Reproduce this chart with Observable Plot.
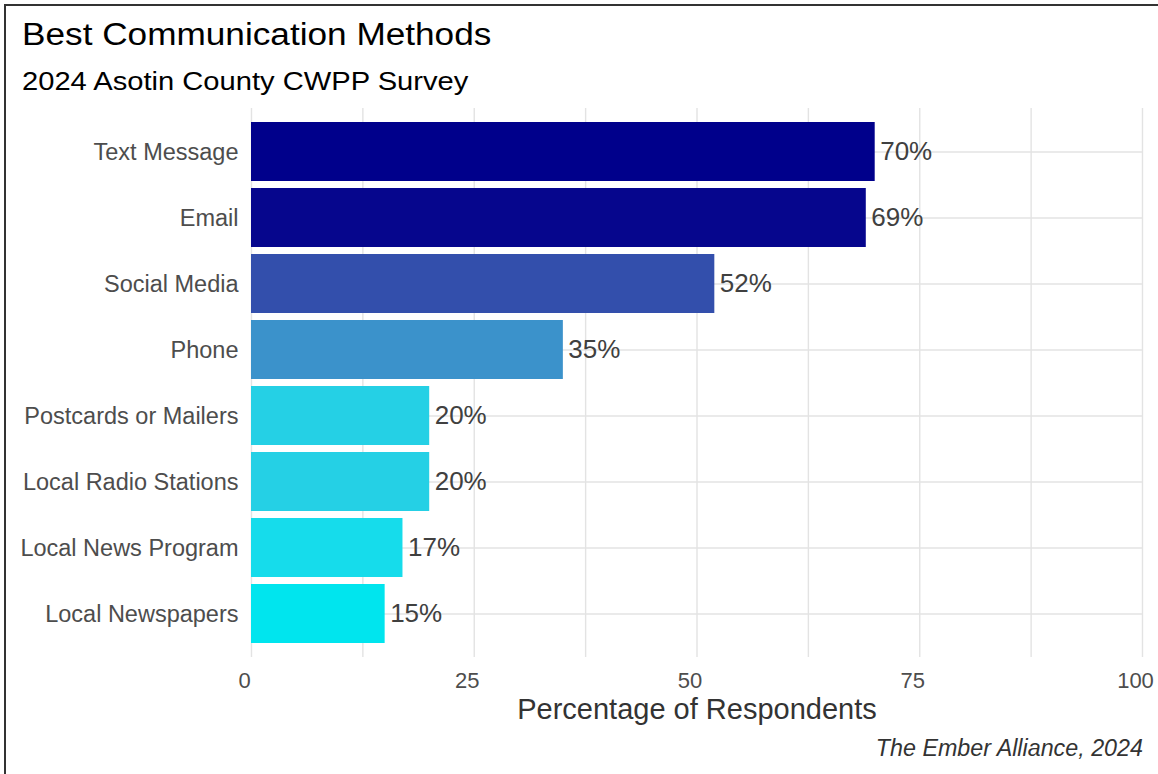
<!DOCTYPE html>
<html>
<head>
<meta charset="utf-8">
<script src="https://cdn.jsdelivr.net/npm/d3@7"></script>
<script src="https://cdn.jsdelivr.net/npm/@observablehq/plot@0.6"></script>
<style>
  html, body { margin: 0; padding: 0; background: #fff; }
  #wrap { position: relative; width: 1158px; height: 774px; overflow: hidden; font-family: "Liberation Sans", Arial, sans-serif; background: #fff; }
  #frame { position: absolute; left: 4px; top: 4px; width: 1200px; height: 800px; border-left: 2px solid #333; border-top: 2px solid #333; box-sizing: border-box; }
  .txt { position: absolute; line-height: 1; white-space: nowrap; }
  #title { left: 22px; top: 19px; font-size: 31px; color: #000; transform-origin: left center; transform: scaleX(1.135); }
  #subtitle { left: 22px; top: 69px; font-size: 25px; color: #000; transform-origin: left center; transform: scaleX(1.165); }
  #caption { right: 15px; top: 737px; font-size: 23.3px; font-style: italic; color: #333; }
  #chart { position: absolute; left: 0; top: 100px; }
</style>
</head>
<body>
<div id="wrap">
  <div id="frame"></div>
  <div id="title" class="txt">Best Communication Methods</div>
  <div id="subtitle" class="txt">2024 Asotin County CWPP Survey</div>
  <div id="chart"></div>
  <div id="caption" class="txt">The Ember Alliance, 2024</div>
</div>
<script>
const categories = ["Text Message", "Email", "Social Media", "Phone", "Postcards or Mailers", "Local Radio Stations", "Local News Program", "Local Newspapers"];
const percents = [70, 69, 52, 35, 20, 20, 17, 15];
const xTicks = [0, 25, 50, 75, 100];
const xGrid = [0, 12.5, 25, 37.5, 50, 62.5, 75, 87.5, 100];
const axisTitle = "Percentage of Respondents";

const data = categories.map((c, i) => ({cat: c, value: percents[i], label: percents[i] + "%"}));

const chart = Plot.plot({
  width: 1158,
  height: 630,
  marginTop: 8,
  marginBottom: 73,
  marginLeft: 251,
  marginRight: 16,
  style: {fontFamily: '"Liberation Sans", Arial, sans-serif', background: "transparent"},
  x: {domain: [0, 100], axis: null},
  y: {domain: categories, paddingInner: 0.1, paddingOuter: 0.155, axis: null},
  color: {type: "linear", domain: [d3.min(percents), d3.max(percents)], range: ["#00e5ee", "#00008b"], interpolate: "lab"},
  marks: [
    Plot.gridX(xGrid, {stroke: "#e3e3e3", strokeOpacity: 1, strokeWidth: 1.4}),
    Plot.gridY(categories, {stroke: "#e3e3e3", strokeOpacity: 1, strokeWidth: 1.4}),
    Plot.barX(data, {x: "value", y: "cat", fill: "value"}),
    Plot.text(data, {x: "value", y: "cat", text: "label", dx: 5, textAnchor: "start", fontSize: 26, fill: "#404040"}),
    Plot.axisX(xTicks, {tickSize: 0, tickPadding: 15, dx: -7, fontSize: 22, fill: "#4d4d4d", label: null}),
    Plot.axisY({tickSize: 0, tickPadding: 13, fontSize: 23.5, fill: "#4d4d4d", label: null}),
    Plot.text([axisTitle], {frameAnchor: "bottom", lineAnchor: "middle", dy: 52, fontSize: 29, fill: "#333"})
  ]
});
document.getElementById("chart").appendChild(chart);
</script>
</body>
</html>
